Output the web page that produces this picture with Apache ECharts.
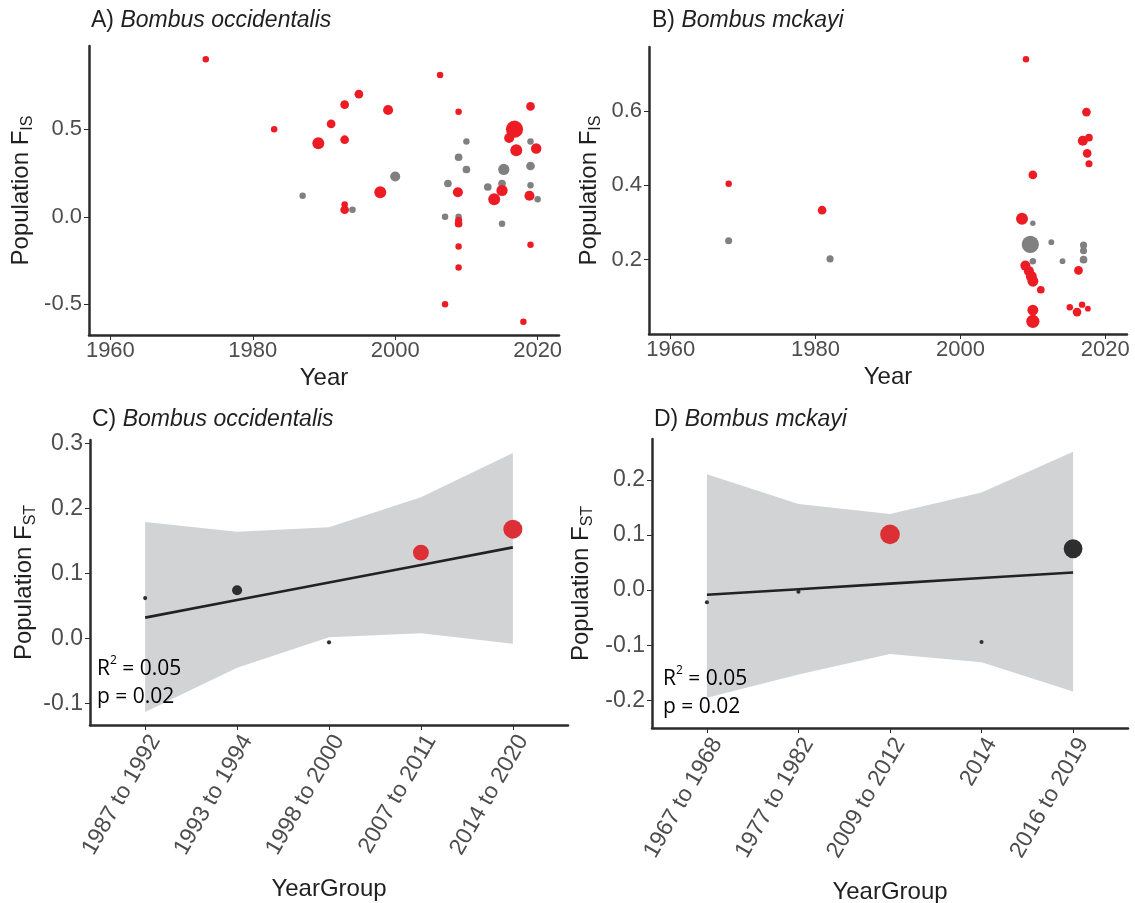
<!DOCTYPE html>
<html><head><meta charset="utf-8">
<script src="https://cdn.jsdelivr.net/npm/echarts@6/dist/echarts.min.js"></script>
<style>html,body{margin:0;padding:0;background:#fff}#c{width:1135px;height:903px}</style>
</head><body><div id="c"></div>
<script>
// ---------- Panel A: Bombus occidentalis, population F_IS by year ----------
const yearA = [1973.4,1983.0,1989.2,1991.0,1992.9,1992.9,1994.9,1999.0,1987.0,1992.9,1992.9,1994.0,1997.9,2000.0,
  2006.3,2008.9,2010.0,2008.9,2010.0,2007.4,2008.8,2007.0,2008.9,2008.9,2008.9,2008.9,2008.9,2007.0,
  2013.0,2015.0,2015.25,2015.0,2013.9,2015.0,2016.75,2016.0,2017.0,2019.0,2019.0,2019.8,2019.0,2019.0,2018.85,2020.0,2019.0,2018.0];
const fisA = [0.90,0.50,0.42,0.53,0.64,0.44,0.70,0.61,0.12,0.07,0.04,0.04,0.14,0.23,
  0.81,0.60,0.43,0.34,0.27,0.19,0.14,0.00,0.00,-0.02,-0.04,-0.17,-0.29,-0.50,
  0.17,0.19,0.27,0.15,0.10,-0.04,0.50,0.45,0.38,0.63,0.43,0.39,0.29,0.18,0.12,0.10,-0.16,-0.60];
// 1 = significant (red), 0 = not significant (grey)
const sigA = [1,1,1,1,1,1,1,1,0,1,1,0,1,0,
  1,1,0,0,0,0,1,0,0,1,1,1,1,1,
  0,0,0,1,1,0,1,1,1,1,0,1,0,0,1,0,1,1];
// relative sample size
const nA = [5,5,17,9,9,9,9,12,5,5,9,5,17,12,
  5,5,5,7,7,7,12,5,5,6,7,5,5,5,
  7,7,15,15,17,5,35,12,17,9,5,13,9,5,12,5,5,5];

// ---------- Panel B: Bombus mckayi, population F_IS by year ----------
const yearB = [1968.0,1980.9,2009.05,2010.0,2008.5,2017.4,2016.9,2017.75,2017.5,2017.75,2016.3,
  2008.97,2009.46,2009.79,2010.01,2011.1,2010.0,2010.0,2015.1,2016.1,2016.8,2017.6,
  1968.0,1982.0,2010.0,2009.65,2010.0,2012.55,2014.1,2017.0,2017.0,2017.0];
const fisB = [0.404,0.333,0.739,0.428,0.310,0.597,0.520,0.528,0.486,0.458,0.171,
  0.184,0.169,0.155,0.142,0.119,0.064,0.034,0.072,0.059,0.079,0.068,
  0.251,0.202,0.298,0.241,0.196,0.247,0.196,0.239,0.224,0.200];
const sigB = [1,1,1,1,1,1,1,1,1,1,1,
  1,1,1,1,1,1,1,1,1,1,1,
  0,0,0,0,0,0,0,0,0,0];
const nB = [5,9,5,9,17,9,12,7,9,6,9,
  12,12,14,14,7,14,21,5,9,5,4,
  6,6,3.5,35,5,4,4,6,6,7];

// ---------- Panel C: Bombus occidentalis, population F_ST by year group ----------
const groupsC = ['1987 to 1992','1993 to 1994','1998 to 2000','2007 to 2011','2014 to 2020'];
const fstC = [0.062,0.074,-0.006,0.132,0.168];
const sigC = [0,0,0,1,1];
const nC = [2,12,2,30,43];
const fitC = [0.032,0.059,0.086,0.113,0.140];
const upperC = [0.179,0.164,0.171,0.217,0.285];
const lowerC = [-0.113,-0.045,0.002,0.008,-0.008];

// ---------- Panel D: Bombus mckayi, population F_ST by year group ----------
const groupsD = ['1967 to 1968','1977 to 1982','2009 to 2012','2014','2016 to 2019'];
const fstD = [-0.022,-0.003,0.101,-0.094,0.075];
const sigD = [0,0,1,0,0];
const nD = [2,2,46,2,42];
const fitD = [-0.0085,0.0016,0.0118,0.0219,0.032];
const upperD = [0.210,0.156,0.138,0.177,0.251];
const lowerD = [-0.195,-0.153,-0.116,-0.131,-0.184];

const yearTicks = [1960,1980,2000,2020];
const fisTicksA = [-0.5,0,0.5];
const fisTicksB = [0.2,0.4,0.6];
const fstTicksC = [-0.1,0,0.1,0.2,0.3];
const fstTicksD = [-0.2,-0.1,0,0.1,0.2];
const stats = {r2: '0.05', p: '0.02'};

// ---------- styling ----------
const FONT = "'Liberation Sans', Arial, Helvetica, sans-serif";
const RED = '#ed1c24', GREY = '#808080';
const RED2 = '#dc3036', DARK = '#2e2e2e';
const BAND = '#d2d3d5';
const AXIS = '#2b2b2b', TICKLAB = '#4d4d4d', TITLE = '#1f1f1f';
const sizeOf = n => 2.9 * Math.sqrt(n);

const chart = echarts.init(document.getElementById('c'), null, {renderer: 'canvas'});

function xValAxis(gi, name) {
  return {
    type: 'value', gridIndex: gi, min: 1957, max: 2023,
    axisLine: {show: true, onZero: false, lineStyle: {color: AXIS, width: 2.5}},
    axisTick: {show: true, customValues: yearTicks, length: 5, lineStyle: {color: AXIS, width: 1}},
    axisLabel: {customValues: yearTicks, formatter: v => String(Math.round(v)),
      fontSize: 22, color: TICKLAB, fontFamily: FONT, margin: 5},
    splitLine: {show: false},
    name: name, nameLocation: 'middle', nameGap: 31,
    nameTextStyle: {fontSize: 24, color: TITLE, fontFamily: FONT}
  };
}
function xCatAxis(gi, groups) {
  const idx = groups.map((g, i) => i + 1);
  return {
    type: 'value', gridIndex: gi, min: 0.4, max: 5.6,
    axisLine: {show: true, onZero: false, lineStyle: {color: AXIS, width: 2.5}},
    axisTick: {show: true, customValues: idx, length: 5, lineStyle: {color: AXIS, width: 1}},
    axisLabel: {customValues: idx, rotate: 60, align: 'right', verticalAlign: 'top',
      formatter: v => groups[Math.round(v) - 1], fontSize: 23, color: TICKLAB, fontFamily: FONT, margin: 6},
    splitLine: {show: false},
    name: 'YearGroup', nameLocation: 'middle', nameGap: 152,
    nameTextStyle: {fontSize: 24, color: TITLE, fontFamily: FONT}
  };
}
function yAxis(gi, min, max, ticks, sub, gap, fs) {
  return {
    type: 'value', gridIndex: gi, min: min, max: max,
    axisLine: {show: true, onZero: false, lineStyle: {color: AXIS, width: 2.5}},
    axisTick: {show: true, customValues: ticks, length: 5, lineStyle: {color: AXIS, width: 1}},
    axisLabel: {customValues: ticks, formatter: v => v.toFixed(1), fontSize: fs, color: TICKLAB, fontFamily: FONT, margin: 7},
    splitLine: {show: false},
    name: 'Population F{sub|' + sub + '}', nameLocation: 'middle', nameGap: gap,
    nameTextStyle: {fontSize: 24, color: TITLE, fontFamily: FONT,
      rich: {sub: {fontSize: 16, color: TITLE, fontFamily: FONT, verticalAlign: 'bottom', lineHeight: 30, padding: [0,0,0,0]}}}
  };
}
function scatterSeries(gi, xs, ys, sig, ns, redCol, greyCol) {
  return {
    type: 'scatter', xAxisIndex: gi, yAxisIndex: gi, z: 5,
    data: xs.map((x, i) => [x, ys[i], sig[i], ns[i]]),
    symbolSize: v => sizeOf(v[3]),
    itemStyle: {color: p => p.data[2] ? redCol : greyCol, opacity: 1},
    silent: true
  };
}
function bandSeries(gi, upper, lower) {
  return {
    type: 'custom', xAxisIndex: gi, yAxisIndex: gi, z: 1, silent: true,
    data: upper.map((u, i) => [i + 1, lower[i], u]),
    encode: {x: 0, y: [1, 2]},
    renderItem: (params, api) => {
      if (params.dataIndex !== 0) return null;
      const pts = [];
      for (let i = 0; i < upper.length; i++) pts.push(api.coord([i + 1, upper[i]]));
      for (let i = lower.length - 1; i >= 0; i--) pts.push(api.coord([i + 1, lower[i]]));
      return {type: 'polygon', shape: {points: pts}, style: {fill: BAND}};
    }
  };
}
function fitSeries(gi, fit) {
  return {
    type: 'line', xAxisIndex: gi, yAxisIndex: gi, z: 3, silent: true,
    data: fit.map((f, i) => [i + 1, f]), symbol: 'none',
    lineStyle: {color: '#222', width: 2.6}
  };
}
function titleOf(letter, species, left, top) {
  return {
    text: letter + ') {i|' + species + '}', left: left, top: top,
    textStyle: {fontSize: 23, fontWeight: 'normal', color: TITLE, fontFamily: FONT,
      rich: {i: {fontSize: 23, fontStyle: 'italic', color: TITLE, fontFamily: FONT}}}
  };
}
function statText(left, top) {
  const rich = {
    t: {fontSize: 21, color: '#231f20', fontFamily: "'Open Sans', sans-serif", lineHeight: 28},
    sup: {fontSize: 12, color: '#231f20', fontFamily: "'Open Sans', sans-serif", verticalAlign: 'top', lineHeight: 28, padding: [0,0,0,0]}
  };
  return {
    type: 'text', left: left, top: top, z: 10, silent: true,
    style: {text: '{t|R}{sup|2}{t| = ' + stats.r2 + '}\n{t|p = ' + stats.p + '}', rich: rich}
  };
}

const option = {
  backgroundColor: '#ffffff',
  animation: false,
  textStyle: {fontFamily: FONT},
  title: [
    titleOf('A', 'Bombus occidentalis', 86, 4),
    titleOf('B', 'Bombus mckayi', 647, 4),
    titleOf('C', 'Bombus occidentalis', 87, 403),
    titleOf('D', 'Bombus mckayi', 649, 403)
  ],
  grid: [
    {left: 89, top: 46, width: 470, height: 289, outerBoundsMode: 'none'},
    {left: 649, top: 47, width: 478, height: 287, outerBoundsMode: 'none'},
    {left: 90, top: 440, width: 478, height: 285, outerBoundsMode: 'none'},
    {left: 652, top: 439, width: 476, height: 289, outerBoundsMode: 'none'}
  ],
  xAxis: [
    xValAxis(0, 'Year'),
    xValAxis(1, 'Year'),
    xCatAxis(2, groupsC),
    xCatAxis(3, groupsD)
  ],
  yAxis: [
    yAxis(0, -0.675, 0.975, fisTicksA, 'IS', 53, 22),
    yAxis(1, 0, 0.772, fisTicksB, 'IS', 45, 22),
    yAxis(2, -0.133, 0.305, fstTicksC, 'ST', 51, 23),
    yAxis(3, -0.25, 0.274, fstTicksD, 'ST', 56, 23)
  ],
  series: [
    scatterSeries(0, yearA, fisA, sigA, nA, RED, GREY),
    scatterSeries(1, yearB, fisB, sigB, nB, RED, GREY),
    bandSeries(2, upperC, lowerC),
    fitSeries(2, fitC),
    scatterSeries(2, [1,2,3,4,5], fstC, sigC, nC, RED2, DARK),
    bandSeries(3, upperD, lowerD),
    fitSeries(3, fitD),
    scatterSeries(3, [1,2,3,4,5], fstD, sigD, nD, RED2, DARK)
  ],
  graphic: [
    statText(97, 655),
    statText(663, 665)
  ]
};
chart.setOption(option);
</script>
</body></html>
